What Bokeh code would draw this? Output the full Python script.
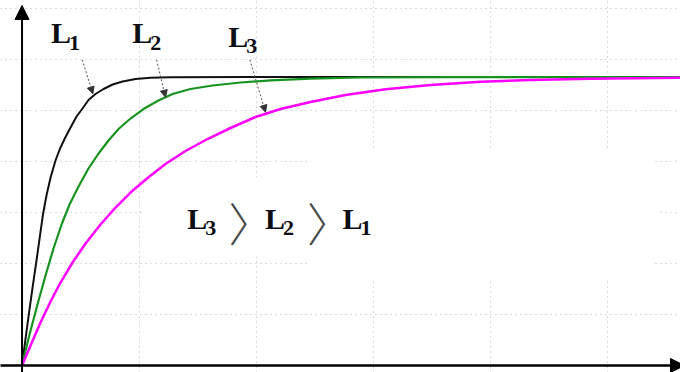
from bokeh.plotting import figure
from bokeh.models import Range1d, Grid, FixedTicker, Arrow, NormalHead
from bokeh.core.properties import value
from bokeh.embed import file_html
from bokeh.resources import INLINE

# Current rise i(t) for three inductances (grid units on both axes)
t_L1 = [0, 0.030, 0.060, 0.090, 0.120, 0.150, 0.179, 0.209, 0.244, 0.286, 0.329, 0.372, 0.415,
        0.466, 0.517, 0.568, 0.628, 0.697, 0.774, 0.859, 0.970, 1.098, 1.269, 1.953, 5.628]
i_L1 = [0, 0.529, 1.039, 1.529, 2.000, 2.490, 2.961, 3.333, 3.686, 4.020, 4.275, 4.480, 4.667,
        4.882, 5.039, 5.206, 5.324, 5.422, 5.510, 5.569, 5.618, 5.643, 5.653, 5.655, 5.655]

t_L2 = [0, 0.064, 0.132, 0.201, 0.269, 0.338, 0.406, 0.483, 0.568, 0.654, 0.739, 0.825,
        0.927, 1.038, 1.158, 1.286, 1.440, 1.628, 1.868, 2.124, 2.466, 2.893, 3.662, 5.628]
i_L2 = [0, 0.608, 1.196, 1.765, 2.294, 2.765, 3.157, 3.510, 3.863, 4.157, 4.412, 4.637,
        4.843, 5.029, 5.186, 5.324, 5.422, 5.490, 5.549, 5.592, 5.627, 5.647, 5.655, 5.655]

t_L3 = [0, 0.073, 0.158, 0.244, 0.329, 0.432, 0.543, 0.671, 0.799, 0.927, 1.073, 1.226, 1.397,
        1.585, 1.782, 1.996, 2.209, 2.466, 2.765, 3.107, 3.491, 3.919, 4.346, 4.859, 5.628]
i_L3 = [0, 0.392, 0.843, 1.255, 1.627, 2.020, 2.392, 2.765, 3.098, 3.392, 3.676, 3.951, 4.206,
        4.441, 4.657, 4.873, 5.029, 5.167, 5.304, 5.416, 5.500, 5.563, 5.600, 5.624, 5.641]

curve_colors = ["#111111", "#17941f", "#ff00ff"]
curve_widths = [2.0, 2.2, 2.5]

# Curve labels: subscript, anchor (x, y), arrow start, arrow end
label_subs = ["1", "2", "3"]
label_x = [0.248, 0.943, 1.763]
label_y = [6.52, 6.52, 6.455]
arrow_from = [(0.515, 5.994), (1.150, 5.994), (1.947, 5.994)]
arrow_to = [(0.605, 5.327), (1.226, 5.261), (2.081, 4.967)]

# Inequality row "L3 > L2 > L1"
order_subs = ["3", "2", "1"]
order_x = [1.413, 2.077, 2.739]
order_y = 2.892
gt_x = [1.961, 2.632]
gt_y = 2.835

p = figure(width=680, height=372, x_range=Range1d(-0.184, 5.628), y_range=Range1d(-0.137, 7.157),
           x_axis_type=None, y_axis_type=None, min_border=0, toolbar_location=None,
           output_backend="svg", outline_line_color=None, background_fill_color="white")

for dim, ticks in [(0, [1, 2, 3, 4, 5]), (1, [1, 2, 3, 4, 5, 6, 7])]:
    p.add_layout(Grid(dimension=dim, ticker=FixedTicker(ticks=ticks),
                      grid_line_color="#b4b4b4", grid_line_dash="1 4", grid_line_width=1))

# blank backdrop behind the inequality
p.quad(left=[1.03, 2.44], right=[5.457, 5.397], bottom=[2.137, 1.706], top=[3.686, 4.255],
       fill_color="white", line_color=None)

for t, i, c, w in zip([t_L1, t_L2, t_L3], [i_L1, i_L2, i_L3], curve_colors, curve_widths):
    p.line(t, i, line_color=c, line_width=w, line_join="round")

# axes drawn as arrows
p.add_layout(Arrow(end=NormalHead(size=14, fill_color="black", line_color="black", line_width=1),
                   x_start=0, y_start=-0.2, x_end=0, y_end=7.06, line_width=2, line_color="black"))
p.add_layout(Arrow(end=NormalHead(size=14, fill_color="black", line_color="black", line_width=1),
                   x_start=-0.2, y_start=0, x_end=5.662, y_end=0, line_width=2.5, line_color="black"))

for (xs, ys), (xe, ye) in zip(arrow_from, arrow_to):
    p.add_layout(Arrow(end=NormalHead(size=7, fill_color="#333333", line_color="#333333", line_width=1),
                       x_start=xs, y_start=ys, x_end=xe, y_end=ye,
                       line_color="#555555", line_width=1, line_dash="2 2"))

font = value("Liberation Serif")
txt = "#0d0d14"

def subscripted(xs, ys, subs):
    p.text(x=xs, y=ys, text=["L"] * len(xs), text_font=font, text_font_style="bold",
           text_font_size="30px", text_color=txt, text_baseline="alphabetic", text_align="left")
    p.text(x=xs, y=ys, text=subs, text_font=font, text_font_style="bold",
           text_font_size="22px", text_color=txt, text_baseline="alphabetic", text_align="left",
           x_offset=18, y_offset=10)

subscripted(label_x, label_y, label_subs)
subscripted(order_x, [order_y] * 3, order_subs)

p.text(x=gt_x, y=[gt_y] * 2, text=["\u3009"] * 2,
       text_font=value("Noto Sans CJK JP Light, Noto Sans CJK JP"),
       text_font_size="46px", text_color="#4a4a4a", text_baseline="middle", text_align="center")

open("out.html", "w").write(file_html(p, INLINE))
